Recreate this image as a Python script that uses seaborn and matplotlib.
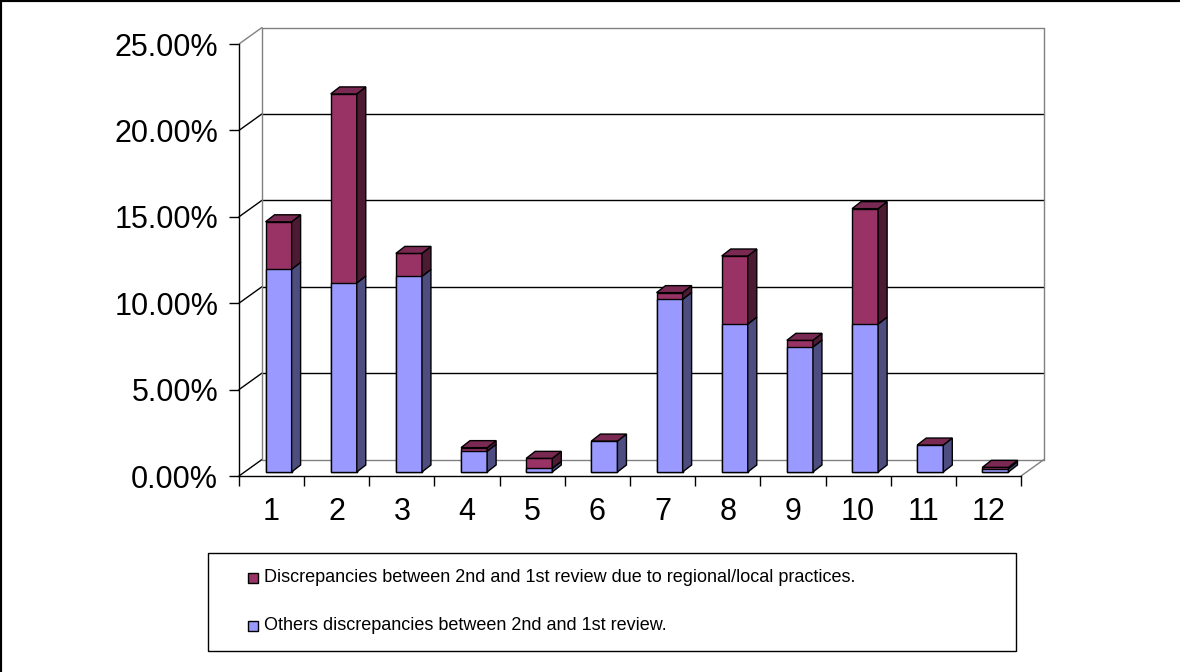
import matplotlib
matplotlib.use("Agg")
import matplotlib.pyplot as plt
import seaborn as sns
import numpy as np
import pandas as pd
from matplotlib.patches import Polygon, Rectangle
from matplotlib.lines import Line2D
from matplotlib.ticker import PercentFormatter, FixedLocator

# ---------------- data ----------------
categories = ["1", "2", "3", "4", "5", "6", "7", "8", "9", "10", "11", "12"]
others_pct = [11.73, 10.94, 11.32, 1.20, 0.21, 1.79, 9.99, 8.56, 7.23, 8.56, 1.56, 0.19]
regional_pct = [2.75, 10.94, 1.33, 0.21, 0.58, 0.00, 0.39, 3.94, 0.39, 6.68, 0.00, 0.08]
y_ticks = [0, 5, 10, 15, 20, 25]
legend_labels = ["Discrepancies between 2nd and 1st review due to regional/local practices.",
                 "Others discrepancies between 2nd and 1st review."]

sns.set_style("white")
plt.rcParams['font.family'] = ['Liberation Sans', 'DejaVu Sans']
plt.rcParams['text.color'] = 'black'
plt.rcParams['xtick.color'] = 'black'
plt.rcParams['ytick.color'] = 'black'

W, H = 1180, 672
fig = plt.figure(figsize=(W / 100, H / 100), dpi=100)
fig.patch.set_facecolor("white")

# axes = front plane of the 3D box
ax_l, ax_r, ax_b, ax_t = 239, 1021, 476, 44
ax = fig.add_axes([ax_l / W, (H - ax_b) / H, (ax_r - ax_l) / W, (ax_b - ax_t) / H])
ax.set_facecolor("none")

BLUE, BLUE_SIDE = "#9999FF", "#4D4D80"
RED, RED_SIDE, RED_TOP = "#993366", "#4D1A33", "#7A2952"
GRAY = "#808080"

df = pd.DataFrame({"cat": categories, "others": others_pct,
                   "regional": regional_pct})
df["total"] = df["others"] + df["regional"]

bw = 0.4
sns.barplot(data=df, x="cat", y="total", order=categories, color=RED, width=bw,
            edgecolor="black", linewidth=1, saturation=1, ax=ax, zorder=3)
sns.barplot(data=df, x="cat", y="others", order=categories, color=BLUE, width=bw,
            edgecolor="black", linewidth=1, saturation=1, ax=ax, zorder=3)

n = len(categories)
ax.set_xlim(-0.5, n - 0.5)
ax.set_ylim(0, 25)

# pixel -> data conversion
px_x = n / (ax_r - ax_l)
px_y = 25 / (ax_b - ax_t)
fx, fy = 7 * px_x, 4 * px_y          # bar front plane offset
dbx, dby = 9 * px_x, 7 * px_y        # bar depth
wx, wy = 23 * px_x, 16.5 * px_y      # back wall offset

for p in ax.patches:
    p.set_x(p.get_x() + fx)
    p.set_y(p.get_y() + fy)

# side and top faces
for i in range(n):
    b = others_pct[i]
    t = others_pct[i] + regional_pct[i]
    xl = i - bw / 2 + fx
    xr = i + bw / 2 + fx
    for (y0, y1, c) in [(0, b, BLUE_SIDE), (b, t, RED_SIDE)]:
        if y1 - y0 <= 0:
            continue
        ax.add_patch(Polygon([(xr, fy + y0), (xr, fy + y1),
                              (xr + dbx, fy + y1 + dby), (xr + dbx, fy + y0 + dby)],
                             closed=True, facecolor=c, edgecolor="black", lw=1,
                             zorder=3, clip_on=False))
    ax.add_patch(Polygon([(xl, fy + t), (xr, fy + t),
                          (xr + dbx, fy + t + dby), (xl + dbx, fy + t + dby)],
                         closed=True, facecolor=RED_TOP, edgecolor="black", lw=1,
                         zorder=3, clip_on=False))

# back wall, floor and side-wall gridlines
x0, x1 = -0.5, n - 0.5
for v in y_ticks:
    col = GRAY if v in (0, 25) else "black"
    ax.plot([x0 + wx, x1 + wx], [v + wy, v + wy], color=col, lw=1, zorder=1, clip_on=False)
    ax.plot([x0, x0 + wx], [v, v + wy], color=GRAY if v == 25 else "black", lw=1,
            zorder=1, clip_on=False)
ax.plot([x0 + wx, x0 + wx], [wy, 25 + wy], color=GRAY, lw=1, zorder=1, clip_on=False)
ax.plot([x1 + wx, x1 + wx], [wy, 25 + wy], color=GRAY, lw=1, zorder=1, clip_on=False)
ax.plot([x1, x1 + wx], [0, wy], color=GRAY, lw=1, zorder=1, clip_on=False)

# axes styling
for s in ["top", "right"]:
    ax.spines[s].set_visible(False)
for s in ["left", "bottom"]:
    ax.spines[s].set_color("black")
    ax.spines[s].set_linewidth(1)

ax.set_yticks(y_ticks)
ax.yaxis.set_major_formatter(PercentFormatter(xmax=100, decimals=2))
ax.set_xticks(range(n))
ax.set_xticklabels(categories)
ax.xaxis.set_minor_locator(FixedLocator(np.arange(-0.5, n, 1.0)))
ax.tick_params(axis="y", which="major", direction="out", length=7, width=1,
               color="black", labelcolor="black", labelsize=22, pad=8, left=True)
ax.tick_params(axis="x", which="major", length=0, labelsize=22, pad=15,
               labelcolor="black", bottom=True)
ax.tick_params(axis="x", which="minor", direction="out", length=7, width=1,
               color="black", bottom=True)
ax.set_xlabel("")
ax.set_ylabel("")
ax.grid(False)

# legend box (manual)
lg_x0, lg_x1, lg_y0, lg_y1 = 208, 1016, 553, 651
fig.add_artist(Rectangle((lg_x0 / W, (H - lg_y1) / H), (lg_x1 - lg_x0) / W,
                         (lg_y1 - lg_y0) / H, transform=fig.transFigure,
                         facecolor="white", edgecolor="black", lw=1))
for (yc, col, lab) in [(578, RED, legend_labels[0]), (626, BLUE, legend_labels[1])]:
    fig.add_artist(Rectangle((248 / W, (H - yc - 5) / H), 10 / W, 10 / H,
                             transform=fig.transFigure, facecolor=col,
                             edgecolor="black", lw=1))
    fig.text(264 / W, (H - yc) / H, lab, fontsize=13, va="center", ha="left",
             color="black")

# figure border (left + top)
fig.add_artist(Line2D([0, 0], [0, 1], transform=fig.transFigure, color="black", lw=3))
fig.add_artist(Line2D([0, 1], [1, 1], transform=fig.transFigure, color="black", lw=3))

fig.savefig("out.png", dpi=100)
